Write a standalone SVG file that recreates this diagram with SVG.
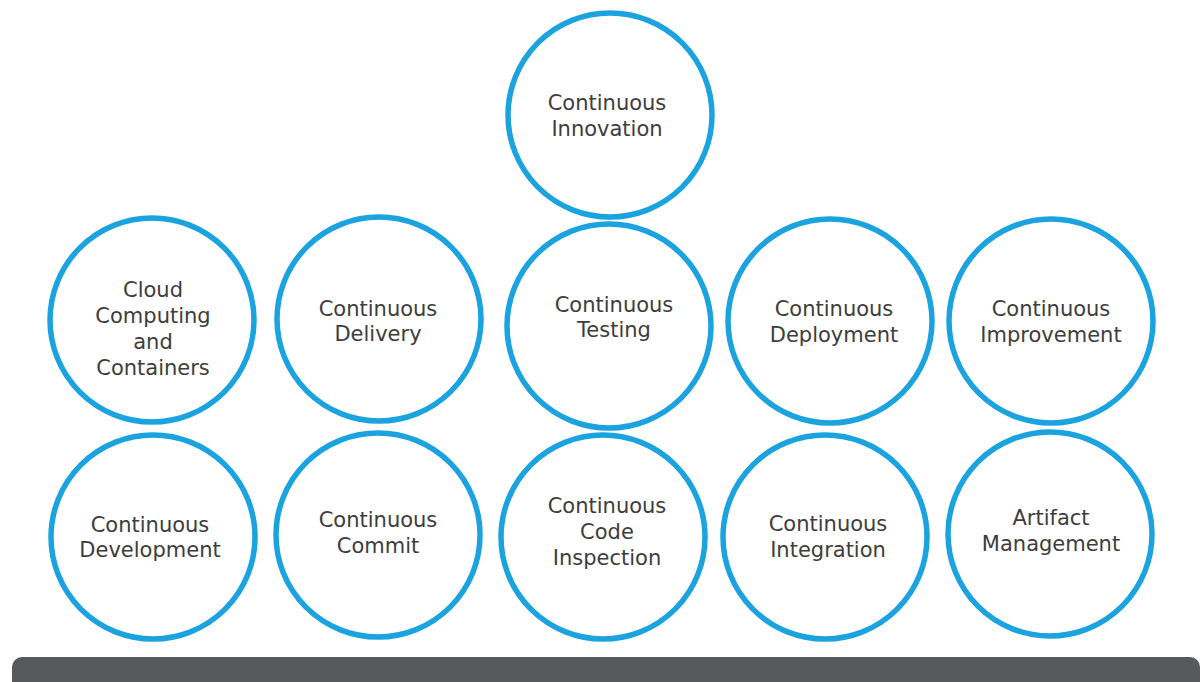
<svg xmlns="http://www.w3.org/2000/svg" width="1201" height="682" viewBox="0 0 1201 682">
  <style>
    .c { fill: #ffffff; stroke: #1ba3e0; stroke-width: 5.5; }
    .t { font-family: "DejaVu Sans", "Liberation Sans", sans-serif; font-size: 21px; fill: #3d3d3d; text-anchor: middle; }
    .bar { fill: #58595b; }
  </style>
  <rect width="1201" height="682" fill="#ffffff"/>
  <g id="connectors"></g>

  <g id="n-innovation">
    <circle class="c" cx="610" cy="115" r="102"/>
    <text class="t" x="607" y="110">Continuous</text>
    <text class="t" x="607" y="136">Innovation</text>
  </g>

  <g id="n-cloud">
    <circle class="c" cx="152" cy="320" r="102"/>
    <text class="t" x="153" y="297">Cloud</text>
    <text class="t" x="153" y="323">Computing</text>
    <text class="t" x="153" y="349">and</text>
    <text class="t" x="153" y="375">Containers</text>
  </g>

  <g id="n-delivery">
    <circle class="c" cx="379" cy="319" r="102"/>
    <text class="t" x="378" y="316">Continuous</text>
    <text class="t" x="378" y="341">Delivery</text>
  </g>

  <g id="n-testing">
    <circle class="c" cx="609" cy="326" r="102"/>
    <text class="t" x="614" y="312">Continuous</text>
    <text class="t" x="614" y="337">Testing</text>
  </g>

  <g id="n-deployment">
    <circle class="c" cx="830" cy="321" r="102"/>
    <text class="t" x="834" y="316">Continuous</text>
    <text class="t" x="834" y="342">Deployment</text>
  </g>

  <g id="n-improvement">
    <circle class="c" cx="1051" cy="321" r="102"/>
    <text class="t" x="1051" y="316">Continuous</text>
    <text class="t" x="1051" y="342">Improvement</text>
  </g>

  <g id="n-development">
    <circle class="c" cx="153" cy="537" r="102"/>
    <text class="t" x="150" y="532">Continuous</text>
    <text class="t" x="150" y="557">Development</text>
  </g>

  <g id="n-commit">
    <circle class="c" cx="378" cy="535" r="102"/>
    <text class="t" x="378" y="527">Continuous</text>
    <text class="t" x="378" y="553">Commit</text>
  </g>

  <g id="n-inspection">
    <circle class="c" cx="603" cy="537" r="102"/>
    <text class="t" x="607" y="513">Continuous</text>
    <text class="t" x="607" y="539">Code</text>
    <text class="t" x="607" y="565">Inspection</text>
  </g>

  <g id="n-integration">
    <circle class="c" cx="825" cy="537" r="102"/>
    <text class="t" x="828" y="531">Continuous</text>
    <text class="t" x="828" y="557">Integration</text>
  </g>

  <g id="n-artifact">
    <circle class="c" cx="1050" cy="534" r="102"/>
    <text class="t" x="1051" y="525">Artifact</text>
    <text class="t" x="1051" y="551">Management</text>
  </g>

  <g id="base">
    <rect class="bar" x="12" y="657" width="1188" height="45" rx="10"/>
  </g>
</svg>
